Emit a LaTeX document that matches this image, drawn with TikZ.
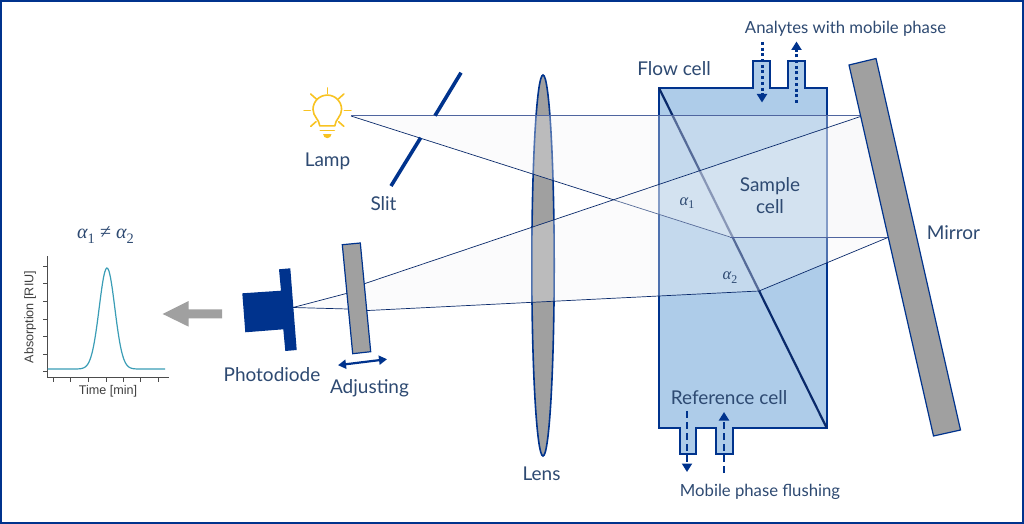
\documentclass[tikz,border=0pt]{standalone}
\usepackage{fontspec}
\setmainfont{Lato}
\newfontfamily\chartfont{Liberation Sans}
\newfontfamily\symfont{Liberation Serif}
\usetikzlibrary{arrows.meta}
\definecolor{navy}{HTML}{00338D}
\definecolor{darknavy}{HTML}{0A2A6B}
\definecolor{softray}{HTML}{4F659F}
\definecolor{txt}{HTML}{2E4A72}
\definecolor{cellblue}{HTML}{AECCE9}
\definecolor{plate}{HTML}{A0A0A0}
\definecolor{beamfill}{HTML}{F5F5F8}
\definecolor{lampy}{HTML}{F8C322}
\definecolor{trace}{HTML}{3A9DB6}
\newcommand{\alphasub}[1]{{\symfont\itshape α}\raisebox{-0.22em}{\symfont\fontsize{0.72em}{1em}\selectfont #1}}
\tikzset{
  lab/.style={text=txt,inner sep=0pt,font=\fontsize{19}{22}\selectfont},
  smalllab/.style={text=txt,inner sep=0pt,font=\fontsize{16.7}{19}\selectfont},
  mathlab/.style={text=txt,inner sep=0pt,font=\fontsize{16.5}{18}\selectfont},
  chartlab/.style={text=black!75,inner sep=0pt,font=\chartfont\fontsize{12.6}{14}\selectfont},
  plateshape/.style={fill=plate,draw=navy,line width=1.2pt,line join=miter},
  beamarea/.style={fill=beamfill,fill opacity=0.32,draw=none},
  ray/.style={draw=darknavy,line width=0.7pt},
  softrayline/.style={draw=softray,line width=1pt},
  flow/.style={navy,line width=2pt,-{Triangle[length=8.5pt,width=10pt]}},
  dotflow/.style={flow,line width=3pt,dash pattern=on 3pt off 2.7pt},
  dashflow/.style={flow,dash pattern=on 7pt off 4pt},
  slitbar/.style={navy,line width=3.6pt},
  ax/.style={draw=black!70,line width=0.8pt},
  bulb/.style={draw=lampy,line width=1.6pt,line cap=round,line join=round},
}
\begin{document}
\begin{tikzpicture}[x=1pt,y=-1pt]
\useasboundingbox (0,0) rectangle (1024,524);
\fill[white] (0,0) rectangle (1024,524);
\draw[navy,line width=2.4pt] (1.2,1.2) rectangle (1022.8,522.8);

% anchor points of the optical path
\coordinate (lamp) at (351,116);
\coordinate (mirA) at (862,116);
\coordinate (mirB) at (889,237);
\coordinate (diagA) at (730,237);
\coordinate (diagB) at (759,291);
\coordinate (diode) at (293,307.5);
\coordinate (pUL) at (347,293.3);
\coordinate (pUR) at (365,283.5);
\coordinate (pLL) at (348,309);
\coordinate (pLR) at (368,310.5);

% flow cell
\coordinate (cellTL) at (659,88);
\coordinate (cellBR) at (826.5,427.5);
\path[fill=cellblue,draw=navy,line width=2pt,line join=miter]
  (cellTL) -- (752.5,88) -- (752.5,61) -- (770,61) -- (770,88) -- (787.5,88) -- (787.5,61) -- (804.5,61) -- (804.5,88)
  -- (826.5,88) -- (cellBR) -- (733,427.5) -- (733,454) -- (716,454) -- (716,427.5) -- (696,427.5) -- (696,454) -- (679.5,454) -- (679.5,427.5)
  -- (659,427.5) -- cycle;
\draw[darknavy,line width=2.2pt] (cellTL) -- (cellBR);

% lens
\path[fill=plate,draw=navy,line width=1.6pt] (543,265.5) ellipse[x radius=11.2,y radius=190.5];

% beams
\fill[beamarea] (lamp) -- (mirA) -- (mirB) -- (diagA) -- cycle;
\draw[ray] (lamp) -- (diagA);
\fill[beamarea] (diode) -- (pUL) -- (pUR) -- (mirA) -- (mirB) -- (diagB) -- (pLR) -- (pLL) -- cycle;
\draw[softrayline] (lamp) -- (mirA);
\draw[softrayline] (diagA) -- (mirB);
\draw[ray] (mirA) -- (pUR) -- (pUL) -- (diode);
\draw[ray] (mirB) -- (diagB) -- (pLR) -- (pLL) -- (diode);

% mirror, adjusting plate
\path[plateshape] (849,65) -- (876,58.5) -- (960.5,430) -- (933.5,436) -- cycle;
\path[plateshape] (342.3,244.7) -- (360.3,243) -- (370.7,351.7) -- (352.7,353.7) -- cycle;
\coordinate (adjL) at (338,365.2);
\coordinate (adjR) at (387,359.2);
\draw[navy,line width=2.2pt,{Triangle[length=8pt,width=9pt]}-{Triangle[length=8pt,width=9pt]}] (adjL) -- (adjR);

% photodiode
\fill[navy] (242.3,293.3) -- (281,290.7) -- (279,269.3) -- (290.3,268.3) -- (296.7,350) -- (285.3,351) -- (283.3,329.3) -- (245.3,332.3) -- cycle;

% slit
\draw[slitbar] (461,72.7) -- (435,115.7);
\draw[slitbar] (420.7,137.7) -- (391,186);

% lamp
\begin{scope}[shift={(327.3,110.4)}]
\draw[bulb] (-7.5,15.5) .. controls (-8,9) and (-14.3,6) .. (-14.3,-1) arc[start angle=180,end angle=0,x radius=14.3,y radius=-14.3] .. controls (14.3,6) and (8,9) .. (7.5,15.5) -- cycle;
\draw[bulb] (-7,20) -- (7,20);
\fill[lampy] (-4.2,23.6) -- (4.2,23.6) arc[start angle=0,end angle=180,radius=4.2] -- cycle;
\draw[bulb] (0,-22.4) -- (0,-16.8);
\draw[bulb] (-16.6,-16.4) -- (-11,-11.4);
\draw[bulb] (16.6,-16.4) -- (11,-11.4);
\draw[bulb] (-23.2,0) -- (-17,0);
\draw[bulb] (23.6,0) -- (17,0);
\draw[bulb] (-16.6,16) -- (-11.3,11.3);
\draw[bulb] (16.6,16) -- (11.3,11.3);
\end{scope}

% flow arrows
\coordinate (inA) at (762,42);
\coordinate (inB) at (762,102.5);
\coordinate (outA) at (796.5,103);
\coordinate (outB) at (796.5,41.5);
\coordinate (flA) at (687,411);
\coordinate (flB) at (687,472);
\coordinate (frA) at (724,473);
\coordinate (frB) at (724,412);
\draw[dotflow] (inA) -- (inB);
\draw[dotflow] (outA) -- (outB);
\draw[dashflow] (flA) -- (flB);
\draw[dashflow] (frA) -- (frB);

% labels
\node[smalllab] (tAnalytes) at (845.5,29) {Analytes with mobile phase};
\node[lab] (tFlow) at (674,69) {Flow cell};
\node[lab] (tLamp) at (327.5,161) {Lamp};
\node[lab] (tSlit) at (383.5,204) {Slit};
\node[lab,align=center] (tSample) at (770,196) {Sample\\cell};
\node[lab] (tMirror) at (953.5,233) {Mirror};
\node[lab] (tRef) at (729,398) {Reference cell};
\node[smalllab] (tFlush) at (760,492) {Mobile phase flushing};
\node[lab] (tLens) at (541.5,474) {Lens};
\node[lab] (tDiode) at (272,375) {Photodiode};
\node[lab] (tAdj) at (369.5,388) {Adjusting};
\node[mathlab] (tA1) at (687,203) {\alphasub{1}};
\node[mathlab] (tA2) at (730,277.5) {\alphasub{2}};
\node[text=txt,inner sep=0pt,font=\fontsize{20}{22}\selectfont] (tNe) at (105.5,235) {\alphasub{1} {\symfont ≠} \alphasub{2}};

% grey arrow
\fill[plate] (222,309.3) -- (188.7,309.3) -- (188.7,301) -- (162.7,314) -- (188.7,326.7) -- (188.7,318.3) -- (222,318.3) -- cycle;

% chart
\coordinate (origin) at (47.3,377.3);
\draw[ax] (47.3,256) -- (origin) -- (169.3,377.3);
\foreach \yy in {266.3,283.7,301.3,319,336.3,354,371.3} \draw[ax] (43.3,\yy) -- (47.3,\yy);
\foreach \xx in {53.3,70.7,88.3,106,123.3,140.7,158.3} \draw[ax] (\xx,377.3) -- (\xx,381.7);
\draw[trace,line width=1.2pt,smooth] plot[domain=47.5:165,samples=120] (\x,{369-101*exp(-((\x-107)*(\x-107))/(2*7.8*7.8))});
\node[chartlab] (tTime) at (108,391) {Time [min]};
\node[chartlab,rotate=90] (tAbs) at (30,317) {Absorption [RIU]};
\end{tikzpicture}
\end{document}
